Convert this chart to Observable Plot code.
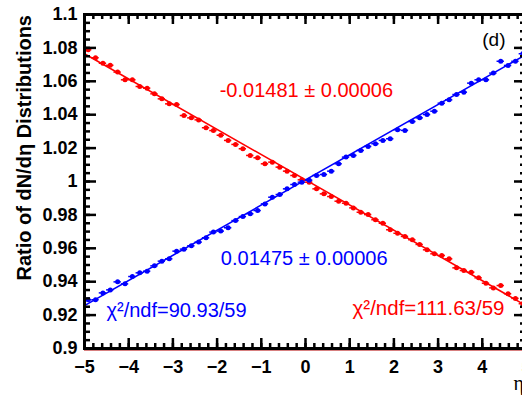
<!DOCTYPE html>
<html><head><meta charset="utf-8">
<script src="https://cdn.jsdelivr.net/npm/d3@7"></script>
<script src="https://cdn.jsdelivr.net/npm/@observablehq/plot@0.6"></script>
<style>
html,body{margin:0;padding:0;background:#fff;overflow:hidden}
</style></head><body><div id="chart"></div>
<script>
// Bin centres in eta
const etaCenters = [-4.917,-4.75,-4.583,-4.417,-4.25,-4.083,-3.917,-3.75,-3.583,-3.417,-3.25,-3.083,-2.917,-2.75,-2.583,
  -2.417,-2.25,-2.083,-1.917,-1.75,-1.583,-1.417,-1.25,-1.083,-0.917,-0.75,-0.583,-0.417,-0.25,-0.083,
  0.083,0.25,0.417,0.583,0.75,0.917,1.083,1.25,1.417,1.583,1.75,1.917,2.083,2.25,2.417,
  2.583,2.75,2.917,3.083,3.25,3.417,3.583,3.75,3.917,4.083,4.25,4.417,4.583,4.75,4.917];
const redRatio = [1.0789,1.0741,1.0708,1.0696,1.0655,1.0609,1.0609,1.0569,1.0559,1.0525,1.0495,1.0465,1.0461,1.0395,1.0381,
  1.0369,1.0322,1.0305,1.0277,1.0246,1.0222,1.0196,1.0156,1.0142,1.0106,1.0116,1.0086,1.0062,1.0036,1.0010,
  0.9996,0.9956,0.9926,0.9910,0.9882,0.9870,0.9842,0.9816,0.9802,0.9771,0.9750,0.9711,0.9690,0.9671,0.9651,
  0.9623,0.9591,0.9567,0.9557,0.9537,0.9483,0.9467,0.9457,0.9423,0.9391,0.9363,0.9377,0.9328,0.9300,0.9268];
const blueRatio = [0.9292,0.9292,0.9333,0.9351,0.9399,0.9387,0.9431,0.9453,0.9463,0.9495,0.9523,0.9537,0.9583,0.9595,0.9615,
  0.9637,0.9663,0.9697,0.9703,0.9723,0.9766,0.9790,0.9807,0.9826,0.9866,0.9906,0.9922,0.9956,0.9982,0.9996,
  1.0008,1.0036,1.0042,1.0062,1.0106,1.0146,1.0156,1.0186,1.0210,1.0226,1.0246,1.0256,1.0310,1.0306,1.0359,
  1.0381,1.0401,1.0421,1.0469,1.0489,1.0521,1.0535,1.0589,1.0609,1.0609,1.0649,1.0720,1.0695,1.0720,1.0765];
// Fitted straight lines (end points)
const fitEta = [-5, 5];
const redFit = [1.0765, 0.9255];
const blueFit = [0.9257, 1.0762];
// Annotations
const redFitLabel = "-0.01481 \u00b1 0.00006";
const blueFitLabel = "0.01475 \u00b1 0.00006";
const blueChiLabel = "\u03c7\u00b2/ndf=90.93/59";
const redChiLabel = "\u03c7\u00b2/ndf=111.63/59";
const panelLabel = "(d)";
const yTitle = "Ratio of dN/d\u03b7 Distributions";
const xTitle = "\u03b7";
// Ticks
const xMajor = [-5,-4,-3,-2,-1,0,1,2,3,4,5];
const xMinor = d3.range(-5, 5.0001, 0.2);
const yMajor = [0.9,0.92,0.94,0.96,0.98,1,1.02,1.04,1.06,1.08,1.1];
const yMinor = d3.range(0.9, 1.10001, 0.005);

const RED = "#ff0000", BLUE = "#0000ff";
const rows = etaCenters.map((x, i) => ({x, red: redRatio[i], blue: blueRatio[i]}));
const fitRows = fitEta.map((x, i) => ({x, red: redFit[i], blue: blueFit[i]}));
const halfBin = 1/12;

const W = 442, H = 334;
const font = "'Liberation Sans', Arial, Helvetica, sans-serif";

const chart = Plot.plot({
  width: 522, height: 398,
  marginLeft: 84, marginRight: -4, marginTop: 14, marginBottom: 50,
  x: {domain: [-5, 5]},
  y: {domain: [0.9, 1.1]},
  style: {fontFamily: font, fontSize: "18px", fontWeight: "bold", background: "#fff", color: "#000"},
  marks: [
    Plot.ruleY([0.9], {stroke: "#b00000", strokeWidth: 1, dy: 1.5}),
    // fitted lines
    Plot.line(fitRows, {x: "x", y: "red", stroke: RED, strokeWidth: 1.6}),
    Plot.line(fitRows, {x: "x", y: "blue", stroke: BLUE, strokeWidth: 1.6}),
    // data points with bin-width bars
    Plot.ruleY(rows, {y: "red", x1: d => d.x - halfBin, x2: d => d.x + halfBin, stroke: RED, strokeWidth: 1.5}),
    Plot.ruleY(rows, {y: "blue", x1: d => d.x - halfBin, x2: d => d.x + halfBin, stroke: BLUE, strokeWidth: 1.5}),
    Plot.dot(rows, {x: "x", y: "red", r: 2.5, fill: RED, stroke: null}),
    Plot.dot(rows, {x: "x", y: "blue", r: 2.5, fill: BLUE, stroke: null}),
    // ticks, inward
    Plot.tickX(xMinor, {insetTop: H - 5, stroke: "#000", strokeWidth: 2.5}),
    Plot.tickX(xMajor, {insetTop: H - 10, stroke: "#000", strokeWidth: 2.5}),
    Plot.tickX(xMinor, {insetBottom: H - 5, stroke: "#000", strokeWidth: 2.5}),
    Plot.tickX(xMajor, {insetBottom: H - 10, stroke: "#000", strokeWidth: 2.5}),
    Plot.tickY(yMinor, {insetRight: W - 6, stroke: "#000", strokeWidth: 2.5}),
    Plot.tickY(yMajor, {insetRight: W - 12, stroke: "#000", strokeWidth: 2.5}),
    Plot.tickY(yMinor, {insetLeft: W - 6, stroke: "#000", strokeWidth: 2.5}),
    Plot.tickY(yMajor, {insetLeft: W - 12, stroke: "#000", strokeWidth: 2.5}),
    Plot.frame({stroke: "#000", strokeWidth: 3}),
    Plot.axisX({ticks: xMajor, tickSize: 0, tickPadding: 12, label: null, fontSize: 18, fontWeight: "bold"}),
    Plot.axisY({ticks: yMajor, tickSize: 0, tickPadding: 7, label: null, tickFormat: d3.format("~g"), fontSize: 18, fontWeight: "bold"}),
    // annotations
    Plot.text([redFitLabel], {x: [0.02], y: [1.0543], text: d => d, fill: RED, fontSize: 20, fontWeight: "normal"}),
    Plot.text([blueFitLabel], {x: [-0.03], y: [0.9537], text: d => d, fill: BLUE, fontSize: 20, fontWeight: "normal"}),
    Plot.text([blueChiLabel], {x: [-4.502], y: [0.9228], text: d => d, fill: BLUE, fontSize: 20, fontWeight: "normal", textAnchor: "start"}),
    Plot.text([redChiLabel], {x: [4.502], y: [0.9238], text: d => d, fill: RED, fontSize: 20.5, fontWeight: "normal", textAnchor: "end"}),
    Plot.text([panelLabel], {x: [4.525], y: [1.0846], text: d => d, fill: "#000", fontSize: 19, fontWeight: "normal", textAnchor: "end"}),
    Plot.text([yTitle], {frameAnchor: "left", y: [1.0202], text: d => d, dx: -59.5, rotate: -90, textAnchor: "middle", fill: "#000", fontSize: 20, fontWeight: "bold"}),
    Plot.text([xTitle], {frameAnchor: "bottom-right", text: d => d, dx: -13, dy: 41, textAnchor: "start", fill: "#000", fontSize: 20, fontWeight: "normal", fontFamily: "'Liberation Serif', 'DejaVu Serif', serif"})
  ]
});
document.getElementById("chart").appendChild(chart);
</script>
</body></html>
